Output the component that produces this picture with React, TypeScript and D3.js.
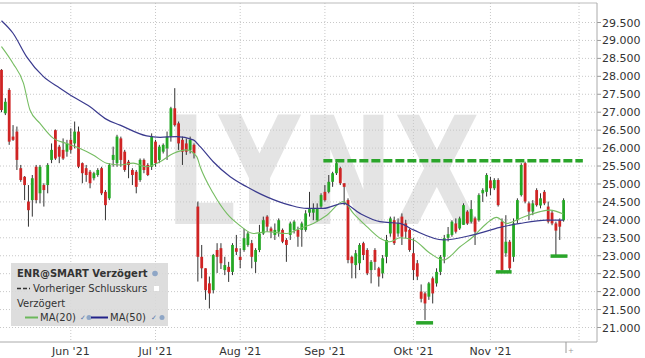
import React from "react";
import * as d3 from "d3";

const W = 645;
const H = 358;

const opens = [28.18,26.97,27.62,26.32,26.46,25.44,25.20,24.51,24.55,25.48,24.74,24.97,24.97,25.67,26.50,26.04,25.95,25.90,26.23,26.13,26.46,25.58,25.44,25.34,25.16,25.25,25.44,24.78,24.60,25.67,25.58,26.27,25.90,25.62,25.39,25.34,25.11,25.67,25.53,25.48,26.18,25.67,25.90,25.99,26.32,27.11,26.69,26.23,26.13,25.95,26.09,24.37,22.97,22.65,22.23,22.04,23.16,23.21,22.60,22.69,22.55,23.21,22.97,23.16,23.30,23.35,22.83,23.16,23.62,24.09,23.76,23.58,23.67,23.72,23.44,23.58,23.72,23.72,23.72,23.72,24.20,24.20,23.99,24.37,24.78,24.78,25.06,25.30,25.44,25.02,24.55,22.97,22.74,22.79,23.35,23.16,22.60,23.16,22.65,22.51,22.97,23.62,23.99,23.62,24.09,23.90,23.72,23.07,22.79,22.00,21.95,21.86,22.37,22.23,22.55,22.97,23.50,23.58,23.90,23.76,23.86,24.23,23.95,24.04,23.99,24.74,24.78,25.10,24.88,25.11,23.95,23.07,23.39,22.97,23.99,24.69,25.58,24.46,24.23,24.83,24.40,24.78,24.37,24.20,23.90,23.99,23.99];
const highs = [28.20,27.39,27.67,26.64,26.60,25.53,25.22,24.97,25.25,25.53,25.53,25.02,25.58,26.13,26.52,26.09,26.27,26.23,26.55,26.74,26.60,25.60,25.53,25.39,25.34,25.44,25.48,24.83,25.58,26.04,26.37,26.32,25.95,25.67,25.44,25.39,25.71,25.71,25.58,26.41,26.23,26.09,26.13,26.46,27.15,27.67,26.74,26.32,26.27,26.32,26.13,24.51,23.30,22.65,22.42,23.05,23.35,23.35,22.97,22.83,23.35,23.58,23.21,23.75,23.67,23.44,23.21,23.86,24.09,24.13,23.81,23.90,24.04,23.76,23.49,23.95,23.99,23.81,23.95,24.27,24.78,24.46,24.46,24.74,24.97,25.25,25.34,25.62,25.48,25.02,24.60,23.00,23.16,23.35,23.39,23.21,22.88,23.21,22.69,23.02,23.58,24.09,24.09,24.04,24.18,24.00,23.76,23.49,22.88,22.20,22.00,22.27,22.42,22.65,23.02,23.58,23.80,23.99,24.04,24.09,24.46,24.27,24.55,24.09,24.74,24.88,25.30,25.20,25.16,25.16,24.04,24.13,23.44,24.04,24.60,25.58,25.62,24.51,24.55,24.88,24.74,24.83,24.51,24.25,23.95,24.04,24.60];
const lows = [27.00,26.92,26.09,26.20,25.39,25.06,24.55,23.81,24.09,24.46,24.46,24.37,24.74,25.58,25.67,25.58,25.67,25.76,25.85,25.99,25.44,25.02,25.06,24.88,25.10,25.20,24.69,23.99,24.55,25.48,25.48,25.48,25.34,25.16,24.97,24.74,25.06,25.30,25.22,25.39,25.48,25.58,25.85,25.67,26.18,26.60,25.95,25.53,25.81,25.85,25.71,22.28,22.37,21.77,21.53,21.95,22.52,22.63,22.46,22.27,22.46,23.02,22.65,23.11,23.25,22.65,22.52,23.10,23.58,23.67,23.49,23.44,23.53,23.35,22.83,23.44,23.62,23.25,23.25,23.67,24.09,23.99,23.95,24.32,24.51,24.74,24.92,25.25,24.97,24.41,22.79,22.37,22.37,22.60,22.88,22.46,22.23,22.60,22.14,22.37,22.79,23.53,23.30,23.53,23.30,23.49,23.11,22.32,22.32,21.70,21.21,21.77,21.67,22.14,22.46,22.79,23.40,23.53,23.62,23.72,23.86,23.86,23.90,23.30,23.95,24.50,24.65,24.69,24.83,24.37,22.57,22.97,22.55,22.83,23.90,24.65,24.46,24.00,24.13,24.37,24.32,24.41,23.90,23.85,23.02,23.44,23.95];
const closes = [27.06,27.29,26.18,26.23,25.67,25.11,24.97,24.27,25.16,24.55,25.48,24.83,25.53,25.95,25.71,25.76,25.71,26.13,25.95,26.46,25.48,25.30,25.25,25.02,25.30,25.39,24.74,24.41,25.53,25.81,26.32,25.67,25.39,25.53,25.25,24.92,25.67,25.39,25.25,26.32,25.58,26.04,26.09,26.32,27.11,26.64,26.13,25.90,25.90,26.23,25.85,22.97,22.65,22.04,21.95,23.02,22.97,22.79,22.74,22.55,23.30,23.11,22.88,23.49,23.62,22.97,23.16,23.62,23.99,23.81,23.67,23.72,23.99,23.39,23.30,23.90,23.95,23.53,23.90,24.18,24.30,24.30,24.32,24.69,24.55,25.06,25.30,25.58,25.02,24.92,22.88,22.79,23.07,23.30,23.02,22.51,22.83,22.83,22.42,22.93,23.44,24.04,23.35,23.90,23.53,23.67,23.16,22.60,22.42,21.80,21.67,22.23,21.95,22.55,22.97,23.49,23.60,23.95,23.67,24.04,24.41,23.90,24.30,23.67,24.69,24.83,25.25,24.88,25.11,24.41,22.60,23.39,22.65,23.90,24.55,25.53,24.51,24.23,24.46,24.41,24.60,24.46,23.95,23.90,23.70,23.81,24.55];

// moving averages: [candle index, value]
const ma20Idx = [0,3,5.7,7.4,10,13.5,16.9,20.4,23.8,27.3,30.8,34.2,37.7,41.2,44.6,48.1,50.7,51.6,55,58.5,61.7,65.4,68.9,74.1,77.5,81,84.5,88.8,91.4,94.9,98.3,100.9,103.5,107,111.3,114.8,119.1,122.5,126,128.6,131.2,134.7,139.9,142.5,145.9];
const ma20Val = [28.83,28.36,27.81,27.06,26.69,26.27,26.13,25.99,25.81,25.58,25.53,25.58,25.48,25.62,25.85,25.95,25.76,25.48,24.74,24.18,23.86,23.62,23.67,23.62,23.76,23.90,24.13,24.51,24.18,23.81,23.49,23.39,23.50,23.44,23.07,22.88,23.25,23.53,23.90,24.07,23.90,24.04,24.23,24.27,24.16];
const ma50Idx = [0,3,6.5,10.9,15.2,18.6,23,27.3,30.8,37.7,41.2,45.5,49.8,51.6,55,59.4,63.7,68.9,74.9,79.3,83.6,88.8,93.1,98.3,103.5,107,114.8,122.5,129.5,134.7,141.6,145.9];
const ma50Val = [29.55,29.20,28.55,27.99,27.67,27.43,27.15,26.80,26.64,26.34,26.30,26.32,26.23,26.04,25.62,25.20,24.92,24.64,24.41,24.32,24.32,24.46,24.18,23.95,23.90,23.72,23.44,23.58,23.79,23.90,23.99,23.99];

const yTicks = [21, 21.5, 22, 22.5, 23, 23.5, 24, 24.5, 25, 25.5, 26, 26.5, 27, 27.5, 28, 28.5, 29, 29.5];
const monthIdx = [18, 40, 62, 84, 107, 127, 150];
const monthLabels = ["Jun '21", "Jul '21", "Aug '21", "Sep '21", "Okt '21", "Nov '21", ""];

const resistance = { from: 83.6, to: 151, level: 25.65 };
const supportFrom = [107.7, 128.4, 142.6];
const supportTo = [112.1, 132.5, 147];
const supportLevel = [21.13, 22.55, 22.99];

const PLOT_L = 0, PLOT_R = 597, PLOT_T = 3, PLOT_B = 342;

export default function App() {
  const x = d3.scaleLinear().domain([0, 146]).range([1.5, 1.5 + 3.85 * 146]);
  const y = d3.scaleLinear().domain([21, 29.5]).range([327.5, 22.5]);

  const ma20 = d3.line<number>().x((_, i) => x(ma20Idx[i])).y((v) => y(v)).curve(d3.curveMonotoneX)(ma20Val) || "";
  const ma50 = d3.line<number>().x((_, i) => x(ma50Idx[i])).y((v) => y(v)).curve(d3.curveMonotoneX)(ma50Val) || "";

  const font = "DejaVu Sans, Verdana, sans-serif";
  const red = "#cf2424";
  const green = "#25a825";

  return (
    <svg width={W} height={H} style={{ position: "absolute", left: 0, top: 0, background: "#fff" }} fontFamily={font}>
      <defs>
        <clipPath id="plot">
          <rect x={PLOT_L} y={PLOT_T} width={PLOT_R - PLOT_L} height={PLOT_B - PLOT_T} />
        </clipPath>
      </defs>
      <rect x={0} y={0} width={W} height={H} fill="#fff" />
      {/* watermark */}
      <text x={165} y={224} fontSize={150} fontWeight="bold" fill="#e4e4e4" textLength={315} lengthAdjust="spacingAndGlyphs" fontFamily="DejaVu Sans, sans-serif">LYNX</text>
      {/* grid */}
      {yTicks.map((t) => (
        <g key={"y" + t}>
          <line x1={PLOT_L} x2={PLOT_R} y1={y(t)} y2={y(t)} stroke="#c8c8c8" strokeDasharray="1,2" />
          <line x1={PLOT_R} x2={PLOT_R + 4} y1={y(t)} y2={y(t)} stroke="#999" />
          <text x={602} y={y(t) + 4} fontSize={11} fill="#333">{t.toFixed(3)}</text>
        </g>
      ))}
      {monthIdx.map((m, i) => (
        <g key={"m" + i}>
          <line x1={x(m)} x2={x(m)} y1={PLOT_T} y2={PLOT_B} stroke="#c8c8c8" strokeDasharray="1,2" />
          {monthLabels[i] && (
            <text x={x(m)} y={355} fontSize={11} fill="#333" textAnchor="middle">{monthLabels[i]}</text>
          )}
        </g>
      ))}
      {/* frame */}
      <line x1={PLOT_L} x2={PLOT_R} y1={PLOT_T} y2={PLOT_T} stroke="#bbb" />
      <line x1={PLOT_R} x2={PLOT_R} y1={PLOT_T} y2={PLOT_B} stroke="#aaa" />
      <line x1={PLOT_L} x2={PLOT_R} y1={PLOT_B} y2={PLOT_B} stroke="#aaa" />
      <line x1={566} x2={566} y1={PLOT_B} y2={353} stroke="#999" />
      <text x={568} y={353} fontSize={7} fill="#999">+</text>

      <g clipPath="url(#plot)">
        {/* candles */}
        {opens.map((o, i) => {
          const c = closes[i];
          const up = c >= o;
          const cx = x(i);
          const top = y(Math.max(o, c));
          const bot = y(Math.min(o, c));
          return (
            <g key={"c" + i}>
              <line x1={cx} x2={cx} y1={y(highs[i])} y2={y(lows[i])} stroke="#333" strokeWidth={1} />
              <rect x={cx - 1.4} y={top} width={2.8} height={Math.max(1, bot - top)} fill={up ? green : red} />
            </g>
          );
        })}
        <path d={ma20} fill="none" stroke="#76bd62" strokeWidth={1.1} />
        <path d={ma50} fill="none" stroke="#3a3a8e" strokeWidth={1.2} />
        {/* annotations */}
        <line x1={x(resistance.from)} x2={x(resistance.to)} y1={y(resistance.level)} y2={y(resistance.level)} stroke="#2aa52a" strokeWidth={3.5} strokeDasharray="9,3" />
        {supportLevel.map((lv, i) => (
          <line key={"s" + i} x1={x(supportFrom[i])} x2={x(supportTo[i])} y1={y(lv)} y2={y(lv)} stroke="#2aa52a" strokeWidth={3.5} />
        ))}
      </g>

      {/* legend */}
      <rect x={11} y={263} width={157} height={63} fill="#d9d9d9" opacity={0.9} />
      <text x={17} y={277} fontSize={10} fontWeight="bold" fill="#333">ENR@SMART Verzögert</text>
      <circle cx={155} cy={273.5} r={2.8} fill="#8ea6c6" />
      <line x1={17} x2={30} y1={288.5} y2={288.5} stroke="#333" strokeWidth={1.5} strokeDasharray="4,2" />
      <text x={33} y={292} fontSize={10} fill="#333">Vorheriger Schlusskurs</text>
      <rect x={154} y={286} width={5} height={5} fill="#fff" />
      <text x={17} y={307} fontSize={10} fill="#333">Verzögert</text>
      <line x1={25} x2={38} y1={317.5} y2={317.5} stroke="#6cb85c" strokeWidth={2} />
      <text x={40} y={321} fontSize={10} fill="#333">MA(20)</text>
      <text x={80} y={320} fontSize={7} fill="#5577aa">✓</text>
      <circle cx={89} cy={317.5} r={2.5} fill="#8ea6c6" />
      <line x1={91} x2={108} y1={317.5} y2={317.5} stroke="#22228a" strokeWidth={2} />
      <text x={110} y={321} fontSize={10} fill="#333">MA(50)</text>
      <text x={151} y={320} fontSize={7} fill="#5577aa">✓</text>
      <circle cx={162} cy={317.5} r={2.5} fill="#8ea6c6" />
    </svg>
  );
}
